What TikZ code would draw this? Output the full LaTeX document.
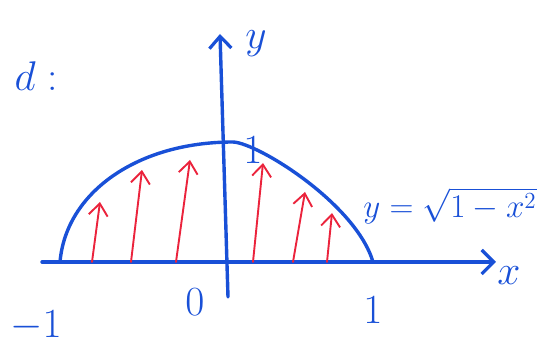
\documentclass[tikz,border=0pt]{standalone}
\usepackage{tikz}
\usetikzlibrary{arrows.meta, positioning, calc}

\definecolor{penblue}{RGB}{25,80,215}
\definecolor{penred}{RGB}{235,35,60}

\begin{document}
\begin{tikzpicture}[x=1pt, y=1pt,
    axis/.style={penblue, line width=3.4pt, line cap=round},
    curve/.style={penblue, line width=3.4pt, line cap=round, line join=round},
    lift/.style={penred, line width=1.9pt, line cap=round,
        -{Straight Barb[length=12pt, width=19pt, line width=1.9pt]}},
    lbl/.style={penblue, font=\LARGE, scale=2.4}]
        \useasboundingbox (-228,-99) rectangle (322,262);

        % Axes
        \coordinate (xstart) at (-186,0);
        \coordinate (xend) at (268,0);
        \coordinate (ystart) at (0,-35);
        \coordinate (yend) at (-8,228);
        \draw[axis, -{Straight Barb[length=12pt, width=24pt, line width=3.2pt]}] (xstart) -- (xend);
        \draw[axis, -{Straight Barb[length=12pt, width=22pt, line width=3.2pt]}] (ystart) -- (yend);
        \node[lbl] (xlabel) at (281,-14) {$x$};
        \node[lbl] (ylabel) at (28,218) {$y$};

        % Upper half of the unit circle
        \coordinate (left) at (-168,0);
        \coordinate (peak) at (5,120);
        \coordinate (right) at (145,0);
        \draw[curve] (left) .. controls (-162,70) and (-90,120) .. (peak)
            .. controls (30,119) and (128,58) .. (right);

        % Arrows under the curve
        \foreach \xb/\xt/\yt [count=\i] in {-136/-128/60, -97/-86/92, -52/-38/102, 25/35/99, 65/77/70, 99/104/49}
            \draw[lift] (\xb,0) coordinate (base\i) -- (\xt,\yt) coordinate (tip\i);

        % Labels on axes
        \node[lbl] (minusone) at (-192,-64) {$-1$};
        \node[lbl] (zero) at (-33,-40) {$0$};
        \node[lbl] (one) at (145,-48) {$1$};
        \node[lbl] (top) at (25,112) {$1$};

        % Curve label and part name
        \node[lbl, scale=0.8] (eq) at (222,56) {$y=\sqrt{1-x^2}$};
        \node[lbl, anchor=east] (part) at (-162,186) {$d:$};
    \end{tikzpicture}
\end{document}
